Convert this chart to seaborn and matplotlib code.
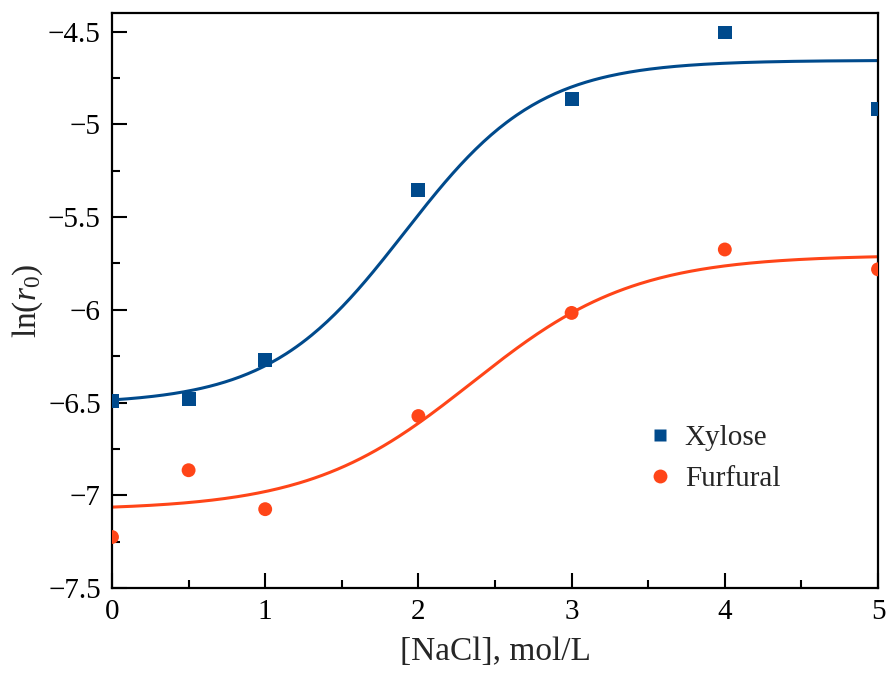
import numpy as np
import pandas as pd
import seaborn as sns
import matplotlib
matplotlib.use('Agg')
import matplotlib.pyplot as plt
from matplotlib.ticker import MultipleLocator, FuncFormatter
from matplotlib.lines import Line2D

# measured points
nacl = [0, 0.5, 1, 2, 3, 4, 5]
xylose = [-6.49, -6.48, -6.27, -5.355, -4.865, -4.505, -4.92]
furfural = [-7.225, -6.865, -7.075, -6.573, -6.017, -5.675, -5.782]

# Boltzmann fit parameters (A1, A2, x0, dx)
xylose_fit = (-6.51, -4.655, 1.91, 0.44)
furfural_fit = (-7.08, -5.705, 2.35, 0.53)

blue = '#004A8C'
red = '#FF4518'

sns.set_style('ticks')
plt.rcParams['font.family'] = ['Liberation Serif', 'DejaVu Serif']
plt.rcParams['mathtext.fontset'] = 'custom'
plt.rcParams['mathtext.rm'] = 'Liberation Serif'
plt.rcParams['mathtext.it'] = 'Liberation Serif:italic'


def boltzmann(x, p):
    a1, a2, x0, dx = p
    return a2 + (a1 - a2) / (1 + np.exp((x - x0) / dx))


xs = np.linspace(0, 5, 300)
pts = pd.DataFrame({'x': nacl * 2, 'y': xylose + furfural,
                    'series': ['Xylose'] * 7 + ['Furfural'] * 7})
fits = pd.DataFrame({'x': np.concatenate([xs, xs]),
                     'y': np.concatenate([boltzmann(xs, xylose_fit), boltzmann(xs, furfural_fit)]),
                     'series': ['Xylose'] * len(xs) + ['Furfural'] * len(xs)})
pal = {'Xylose': blue, 'Furfural': red}

fig, ax = plt.subplots(figsize=(8.86, 6.73), dpi=100)
fig.subplots_adjust(left=0.1264, right=0.991, bottom=0.1263, top=0.9807)

sns.lineplot(data=fits, x='x', y='y', hue='series', palette=pal, lw=2.2, legend=False, ax=ax)
sns.scatterplot(data=pts, x='x', y='y', hue='series', style='series',
                markers={'Xylose': 's', 'Furfural': 'o'}, palette=pal,
                s=100, edgecolor='none', legend=False, ax=ax, zorder=3)

ax.set_xlim(0, 5)
ax.set_ylim(-7.5, -4.4)
ax.xaxis.set_major_locator(MultipleLocator(1))
ax.xaxis.set_minor_locator(MultipleLocator(0.5))
ax.yaxis.set_major_locator(MultipleLocator(0.5))
ax.yaxis.set_minor_locator(MultipleLocator(0.25))
fmt = FuncFormatter(lambda v, p: f'{v:g}'.replace('-', '\u2212'))
ax.xaxis.set_major_formatter(fmt)
ax.yaxis.set_major_formatter(fmt)
ax.tick_params(which='both', direction='in', width=1.5, colors='black', labelsize=21, pad=8)
ax.tick_params(which='major', length=11)
ax.tick_params(which='minor', length=6)
for s in ax.spines.values():
    s.set_linewidth(1.6)
    s.set_color('black')

ax.set_xlabel('[NaCl], mol/L', fontsize=24, labelpad=8)
ax.set_ylabel(r'$\mathregular{ln(}\mathit{r}_{\mathit{0}}\mathregular{)}$', fontsize=24, labelpad=2)

handles = [Line2D([], [], ls='none', marker='s', ms=9, color=blue, mec='none'),
           Line2D([], [], ls='none', marker='o', ms=10, color=red, mec='none')]
ax.legend(handles, ['Xylose', 'Furfural'], frameon=False, fontsize=21,
          loc='center left', bbox_to_anchor=(0.662, 0.225), handlelength=1.0,
          handletextpad=0.35, labelspacing=0.5)

fig.savefig('out.png', dpi=100)
